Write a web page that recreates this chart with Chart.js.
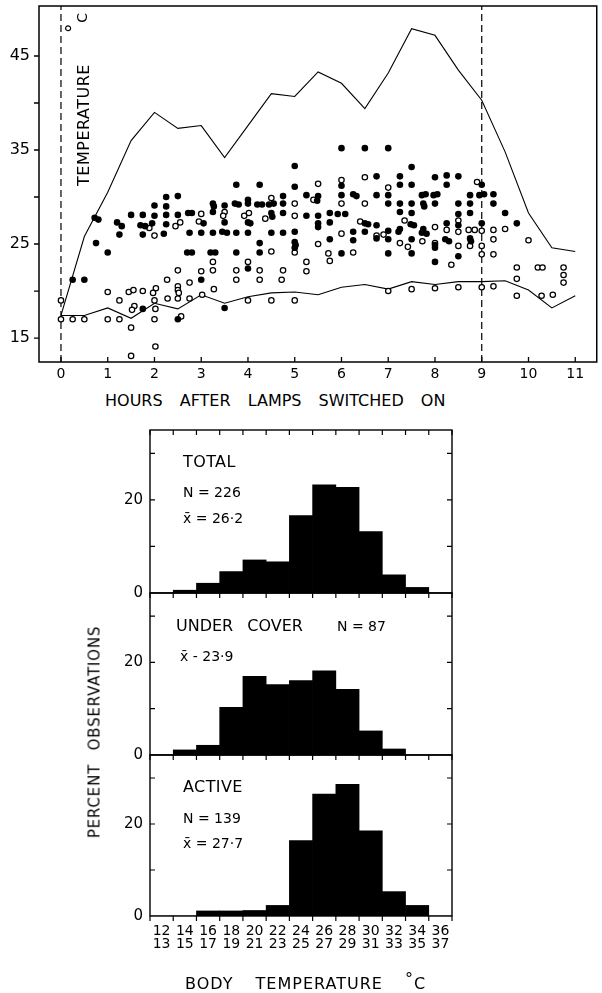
<!DOCTYPE html>
<html><head><meta charset="utf-8">
<script src="https://cdn.jsdelivr.net/npm/chart.js@4.4.1/dist/chart.umd.min.js"></script>
<style>
html,body{margin:0;padding:0;background:#fff;}
#wrap{position:relative;width:602px;height:993px;overflow:hidden;background:#fff;font-family:"DejaVu Sans",sans-serif;color:#000;}
canvas{position:absolute;}
.t{position:absolute;line-height:1;white-space:nowrap;transform:translateY(-50%);}
.r{position:absolute;line-height:1;white-space:nowrap;transform:translate(-50%,-50%) rotate(-90deg);}
.deg{position:relative;top:-0.3em;}
.degbig{position:relative;top:-0.35em;font-size:1.35em;margin-right:1px;}
</style></head><body>
<div id="wrap">
<canvas id="top" width="602" height="390" style="left:0;top:0"></canvas>
<canvas id="h1" width="370" height="185" style="left:100px;top:420px"></canvas>
<canvas id="h2" width="370" height="185" style="left:100px;top:583px"></canvas>
<canvas id="h3" width="370" height="215" style="left:100px;top:745px"></canvas>

<div class="r" style="left:84px;top:125px;font-size:16px;letter-spacing:0.5px">TEMPERATURE</div>
<div class="r" style="left:80px;top:23px;font-size:14px"><span class="degbig">°</span>C</div>
<div class="t" style="left:105px;top:401px;font-size:16px;word-spacing:12px">HOURS AFTER LAMPS SWITCHED ON</div>

<div class="t" style="left:183px;top:462px;font-size:16px;letter-spacing:0.4px">TOTAL</div>
<div class="t" style="left:183px;top:492px;font-size:14px">N = 226</div>
<div class="t" style="left:183px;top:518px;font-size:14px">x̄ = 26·2</div>

<div class="t" style="left:176px;top:626px;font-size:16px;word-spacing:9px">UNDER COVER</div>
<div class="t" style="left:337px;top:626px;font-size:14px">N = 87</div>
<div class="t" style="left:180px;top:656px;font-size:14px">x̄ - 23·9</div>

<div class="t" style="left:183px;top:787px;font-size:16px;letter-spacing:0.4px">ACTIVE</div>
<div class="t" style="left:183px;top:818px;font-size:14px">N = 139</div>
<div class="t" style="left:183px;top:843px;font-size:14px">x̄ = 27·7</div>

<div class="r" style="left:95px;top:732px;font-size:15px;letter-spacing:0.8px;word-spacing:8px">PERCENT OBSERVATIONS</div>
<div class="t" style="left:185px;top:984px;font-size:16px;letter-spacing:1px;word-spacing:16px">BODY TEMPERATURE <span class="deg">°</span>C</div>
</div>
<script>
// ---------------- data: top panel ----------------
const lineHours = [0, 0.5, 1, 1.5, 2, 2.5, 3, 3.5, 4, 4.5, 5, 5.5, 6, 6.5, 7, 7.5, 8, 8.5, 9, 9.5, 10, 10.5, 11];
const maxTemp = [17.4, 25.8, 30.5, 36.0, 39.0, 37.3, 37.6, 34.2, 37.6, 41.0, 40.7, 43.3, 42.1, 39.4, 43.2, 47.9, 47.2, 43.5, 40.3, 34.8, 28.3, 24.6, 24.2];
const minTemp = [17.4, 17.4, 18.2, 17.1, 18.7, 18.1, 19.6, 18.7, 19.4, 19.8, 19.9, 19.6, 20.4, 20.7, 20.2, 21.0, 20.7, 21.0, 21.0, 21.1, 20.1, 18.2, 19.5];
const dashedHours = [0, 9];
const hourTicks = [0, 1, 2, 3, 4, 5, 6, 7, 8, 9, 10, 11];
const tempTicks = [15, 20, 25, 30, 35, 40, 45];
const tempLabels = [15, 25, 35, 45];

// active lizards (filled circles): [hour, body temperature]
const activePoints = [
[0.25,21.2],[0.5,21.2],
[0.72,27.8],[0.8,27.6],[0.75,25.1],
[1.0,24.1],
[1.2,27.3],[1.3,26.9],[1.25,26.0],
[1.5,28.1],
[1.75,28.1],[1.7,27.0],[1.8,26.9],[1.75,26.0],[1.75,18.1],
[2.0,29.1],[2.0,28.0],[1.95,27.2],
[2.25,30.0],[2.25,29.0],[2.25,28.1],[2.25,27.1],[2.2,26.1],
[2.5,30.1],[2.5,28.1],[2.5,17.0],
[2.72,28.3],[2.8,28.3],[2.75,26.2],[2.7,24.1],[2.8,24.1],
[3.05,27.2],[3.0,26.2],[3.0,21.2],
[3.25,29.3],[3.27,29.0],[3.25,28.4],[3.25,26.2],[3.2,24.1],[3.3,24.1],
[3.5,29.1],[3.5,27.3],[3.45,26.3],[3.55,26.2],[3.5,18.2],
[3.75,31.3],[3.72,29.3],[3.8,29.2],[3.75,26.2],[3.75,24.1],
[4.0,29.7],[4.0,29.3],[4.0,27.3],[4.05,27.2],[4.0,26.2],[4.0,22.4],
[4.25,31.3],[4.2,29.2],[4.3,29.2],[4.25,25.1],[4.25,24.1],
[4.45,29.2],[4.55,29.3],[4.5,28.3],[4.52,27.9],[4.5,26.2],
[4.75,30.1],[4.75,29.3],[4.75,28.3],[4.75,26.2],
[5.0,33.3],[5.0,31.1],[5.0,26.3],[5.0,25.2],[5.02,24.9],[5.0,24.6],
[5.25,30.2],[5.25,28.0],
[5.5,30.1],[5.48,29.6],[5.5,28.0],[5.5,27.2],[5.5,26.8],
[5.75,28.3],[5.75,27.3],[5.75,25.5],
[6.0,35.2],[6.0,31.2],[6.0,30.2],[5.92,28.2],[6.08,28.2],[6.0,24.0],
[6.25,30.3],[6.32,30.1],[6.25,26.3],[6.25,25.4],
[6.5,35.2],[6.5,27.2],[6.57,27.1],[6.5,26.3],
[6.75,32.2],[6.75,30.2],[6.75,27.0],[6.75,25.6],
[7.0,35.2],[7.0,30.2],[7.0,29.3],[7.0,26.4],[7.0,25.5],[7.0,24.0],
[7.25,32.2],[7.25,31.3],[7.25,29.3],[7.25,28.4],[7.25,26.6],[7.22,26.3],
[7.5,33.2],[7.5,31.3],[7.5,29.3],[7.5,28.3],[7.48,27.1],[7.55,27.0],[7.5,25.5],[7.5,24.0],
[7.72,30.2],[7.8,30.3],[7.75,29.3],[7.77,29.0],[7.75,26.6],[7.72,26.2],[7.82,26.1],
[8.0,32.1],[7.97,30.2],[8.05,30.3],[8.0,29.3],[8.0,24.9],[8.0,24.6],[8.0,23.1],
[8.25,32.3],[8.25,31.3],[8.25,27.2],[8.22,25.5],[8.3,25.3],
[8.5,32.2],[8.5,29.3],[8.5,28.2],[8.5,27.0],[8.5,23.7],
[8.75,30.2],[8.75,29.3],[8.75,28.3],[8.75,25.6],[8.77,25.3],
[9.0,31.3],[8.95,30.2],[9.05,30.3],[9.0,27.2],
[9.25,30.3],[9.25,29.3],
[9.5,28.3],
[9.75,27.2]
];

// lizards under cover (open circles): [hour, body temperature]
const coverPoints = [
[0,19.0],[0,17.0],[0.25,17.0],[0.5,17.0],
[1.0,19.9],[1.0,17.0],
[1.25,19.0],[1.25,17.0],
[1.45,19.9],[1.55,20.1],[1.57,18.4],[1.52,18.0],[1.5,16.1],[1.5,13.1],
[1.75,20.0],
[1.89,26.7],
[2.0,25.9],[2.03,20.3],[1.97,19.8],[2.0,19.0],[2.02,18.1],[2.0,17.0],[2.02,14.1],
[2.27,21.2],[2.28,19.2],
[2.45,26.9],[2.55,27.3],[2.5,22.2],[2.5,20.5],[2.5,20.1],[2.52,19.8],[2.5,19.2],[2.57,17.3],
[2.75,20.9],[2.75,19.2],
[3.0,28.2],[2.95,27.4],[3.0,22.1],[3.02,19.6],
[3.25,23.1],[3.25,22.2],[3.27,20.2],
[3.5,28.4],[3.47,28.0],
[3.75,22.2],[3.75,21.2],
[3.92,28.0],[4.02,28.3],[4.0,23.1],[4.0,19.0],
[4.25,22.2],[4.25,21.2],
[4.37,27.7],
[4.5,29.9],[4.5,24.2],[4.5,19.0],
[4.75,22.2],[4.72,21.2],
[5.0,29.3],[5.0,28.0],[5.0,24.1],[5.0,19.0],
[5.25,23.1],[5.25,22.1],
[5.4,29.7],
[5.5,31.4],[5.5,25.0],
[5.72,24.0],[5.75,23.2],
[6.0,31.8],[6.0,29.3],[6.0,26.1],
[6.25,24.1],
[6.4,27.4],
[6.5,32.1],[6.5,29.3],
[6.75,25.9],[6.9,26.0],
[7.0,31.0],[7.0,20.0],
[7.25,25.1],[7.35,27.5],[7.42,24.7],
[7.5,20.2],
[7.73,25.3],
[8.0,26.8],[8.0,25.1],[8.0,20.3],
[8.25,26.5],[8.35,22.8],
[8.5,27.5],[8.5,26.3],[8.5,24.8],[8.5,20.4],
[8.72,26.5],[8.85,26.5],[8.75,24.8],
[8.9,31.6],
[9.0,26.4],[9.0,24.8],[9.0,23.9],[9.0,20.4],
[9.25,26.5],[9.25,25.5],[9.25,23.9],[9.25,20.5],
[9.5,26.6],
[9.75,22.5],[9.75,21.3],[9.75,19.5],
[10.0,25.4],
[10.2,22.5],[10.3,22.5],
[10.28,19.5],[10.52,19.6],
[10.75,22.5],[10.75,21.7],[10.75,20.9]
];

// ---------------- data: histograms ----------------
const binLabels = [['12','13'],['14','15'],['16','17'],['18','19'],['20','21'],['22','23'],['24','25'],['26','27'],['28','29'],['30','31'],['32','33'],['34','35'],['36','37']];
const totalPct  = [0, 0.6, 2.1, 4.6, 7.1, 6.7, 16.6, 23.2, 22.7, 13.2, 3.9, 1.2, 0];
const coverPct  = [0, 1.1, 2.1, 10.3, 17.0, 15.2, 16.1, 18.2, 14.2, 5.2, 1.3, 0, 0];
const activePct = [0, 0, 1.1, 1.1, 1.2, 2.3, 16.4, 26.5, 28.6, 18.5, 5.3, 2.3, 0];
const pctTicks = [0, 10, 20, 30];
const pctLabels = [0, 20];

// ---------------- helpers ----------------
const FONT = '"DejaVu Sans", sans-serif';

function decor(cfg) {
  return {
    id: 'decor',
    afterDatasetsDraw(chart) {
      const {ctx, chartArea: a} = chart;
      const xs = chart.scales.x, ys = chart.scales.y;
      ctx.save();
      ctx.strokeStyle = '#000';
      ctx.lineWidth = cfg.frameWidth;
      ctx.strokeRect(a.left, a.top, a.right - a.left, a.bottom - a.top);
      ctx.lineWidth = cfg.tickWidth;
      ctx.beginPath();
      cfg.xTicks.forEach(v => {
        const px = xs.getPixelForValue(v);
        cfg.xMarks.forEach(m => {
          const y0 = m.edge === 'top' ? a.top : a.bottom;
          ctx.moveTo(px, y0); ctx.lineTo(px, y0 + m.len);
        });
      });
      cfg.yTicks.forEach(v => {
        const py = ys.getPixelForValue(v);
        cfg.yMarks.forEach(m => {
          const x0 = m.edge === 'left' ? a.left : a.right;
          ctx.moveTo(x0, py); ctx.lineTo(x0 + m.len, py);
        });
      });
      ctx.stroke();
      ctx.restore();
    }
  };
}

function fixX(h) { return s => { s.height = h; s.paddingLeft = 0; s.paddingRight = 0; s.paddingTop = 0; s.paddingBottom = 0; }; }
function fixY(w) { return s => { s.width = w; s.paddingLeft = 0; s.paddingRight = 0; s.paddingTop = 0; s.paddingBottom = 0; }; }

const toXY = arr => arr.map(p => ({x: p[0], y: p[1]}));
const Y_MIN = 12.45, Y_MAX = 50.32;

// ---------------- top chart ----------------
new Chart(document.getElementById('top'), {
  type: 'scatter',
  data: {
    datasets: [
      { label: 'Active', data: toXY(activePoints), order: 0,
        pointRadius: 3.3, pointBackgroundColor: '#000', backgroundColor: '#000', pointBorderWidth: 0, borderColor: '#000' },
      { label: 'Under cover', data: toXY(coverPoints), order: 1,
        pointRadius: 2.7, pointBackgroundColor: '#fff', backgroundColor: '#fff', pointBorderColor: '#000', borderColor: '#000', pointBorderWidth: 1.25 },
      { label: 'Maximum', data: lineHours.map((h, i) => ({x: h, y: maxTemp[i]})), order: 3,
        showLine: true, pointRadius: 0, borderColor: '#000', borderWidth: 1.1, fill: false, tension: 0 },
      { label: 'Minimum', data: lineHours.map((h, i) => ({x: h, y: minTemp[i]})), order: 3,
        showLine: true, pointRadius: 0, borderColor: '#000', borderWidth: 1.1, fill: false, tension: 0 },
      ...dashedHours.map(h => ({ label: 'lamps', data: [{x: h, y: Y_MIN}, {x: h, y: Y_MAX}], order: 4,
        showLine: true, pointRadius: 0, borderColor: '#000', borderWidth: 1.2, borderDash: [7, 4], fill: false }))
    ]
  },
  options: {
    responsive: false, animation: false, devicePixelRatio: 1, events: [],
    layout: { padding: { top: 6, right: 1, left: 0, bottom: 0 } },
    plugins: { legend: { display: false }, tooltip: { enabled: false } },
    scales: {
      x: {
        type: 'linear', min: -0.47, max: 11.46,
        grid: { display: false, drawTicks: false }, border: { display: false },
        afterBuildTicks: s => { s.ticks = hourTicks.map(v => ({value: v})); },
        afterFit: fixX(28),
        ticks: { color: '#000', padding: 4, font: { family: FONT, size: 14 }, maxRotation: 0, autoSkip: false }
      },
      y: {
        type: 'linear', min: Y_MIN, max: Y_MAX,
        grid: { display: false, drawTicks: false }, border: { display: false },
        afterBuildTicks: s => { s.ticks = tempTicks.map(v => ({value: v})); },
        afterFit: fixY(39),
        ticks: { color: '#000', padding: 9, font: { family: FONT, size: 16 }, autoSkip: false,
          callback: v => tempLabels.includes(v) ? String(v) : '' }
      }
    }
  },
  plugins: [decor({
    frameWidth: 1.5, tickWidth: 1.3,
    xTicks: hourTicks, xMarks: [{edge: 'bottom', len: -5}],
    yTicks: tempTicks, yMarks: [{edge: 'left', len: -5}]
  })]
});

// ---------------- histograms ----------------
const binEdges = binLabels.map((_, i) => i - 0.5).concat([binLabels.length - 0.5]);

function histogram(id, values, name, showLabels, topTicks, xHeight) {
  const xMarks = [{edge: 'bottom', len: 5}];
  if (topTicks) xMarks.push({edge: 'top', len: 5});
  new Chart(document.getElementById(id), {
    type: 'bar',
    data: { labels: binLabels, datasets: [{ label: name, data: values, backgroundColor: '#000', borderWidth: 0,
      barPercentage: 1, categoryPercentage: 1 }] },
    options: {
      responsive: false, animation: false, devicePixelRatio: 1, events: [],
      layout: { padding: { top: 10, right: 18, left: 0, bottom: 0 } },
      plugins: { legend: { display: false }, tooltip: { enabled: false } },
      scales: {
        x: {
          type: 'category', offset: true,
          grid: { display: false, drawTicks: false }, border: { display: false },
          afterFit: fixX(xHeight),
          ticks: { display: showLabels, color: '#000', padding: 8.5, maxRotation: 0, autoSkip: false,
            font: { family: FONT, size: 14, lineHeight: '13px' } }
        },
        y: {
          type: 'linear', min: 0, max: 35,
          grid: { display: false, drawTicks: false }, border: { display: false },
          afterBuildTicks: s => { s.ticks = pctTicks.map(v => ({value: v})); },
          afterFit: fixY(50),
          ticks: { color: '#000', padding: 7, font: { family: FONT, size: 15 }, autoSkip: false,
            callback: v => pctLabels.includes(v) ? String(v) : '' }
        }
      }
    },
    plugins: [decor({
      frameWidth: 1.4, tickWidth: 1.2,
      xTicks: binEdges, xMarks: xMarks,
      yTicks: pctTicks.filter(v => v > 0), yMarks: [{edge: 'left', len: 5}, {edge: 'right', len: -5}]
    })]
  });
}

histogram('h1', totalPct, 'Total', false, true, 12);
histogram('h2', coverPct, 'Under cover', false, false, 13);
histogram('h3', activePct, 'Active', true, false, 44);
</script>
</body></html>
